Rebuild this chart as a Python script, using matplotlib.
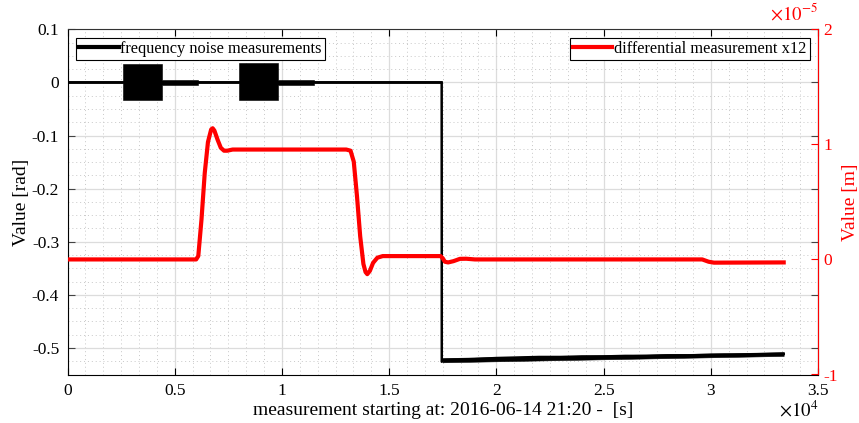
import matplotlib
matplotlib.use("Agg")
import matplotlib.pyplot as plt
from matplotlib.ticker import AutoMinorLocator

plt.rcParams['font.family'] = ['Liberation Serif', 'DejaVu Serif']
plt.rcParams['mathtext.fontset'] = 'stix'
plt.rcParams['axes.unicode_minus'] = False

# ---- data ----
# black: frequency noise measurements (rad)
black_t = [0, 17450, 17455, 17500, 18000, 19000, 20000, 21000, 22000, 23000,
           24000, 25000, 26000, 27000, 28000, 29000, 30000, 31000, 32000, 33400]
black_v = [0, 0, -0.526, -0.523, -0.522, -0.521, -0.519, -0.518, -0.517, -0.517,
           -0.516, -0.516, -0.515, -0.515, -0.514, -0.514, -0.513, -0.513, -0.512, -0.511]
# noise envelope of the black trace before the step
noise_t = [0, 2600, 2600, 4420, 4420, 6100, 6100, 8010, 8010, 9830, 9830, 11500, 11500, 17450]
noise_hi = [0.002, 0.002, 0.035, 0.035, 0.005, 0.005, 0.002, 0.002, 0.037, 0.037,
            0.005, 0.005, 0.002, 0.002]
noise_lo = [-0.002, -0.002, -0.033, -0.033, -0.005, -0.005, -0.002, -0.002, -0.033, -0.033,
            -0.005, -0.005, -0.002, -0.002]
# noise band of the black trace after the step
post_t = [17500, 33400]
post_lo = [-0.527, -0.515]
post_hi = [-0.519, -0.508]

# red: differential measurement x12 (units of 1e-5 m)
red_t = [0, 6000, 6100, 6250, 6400, 6550, 6700, 6770, 6850, 7000, 7150, 7300, 7450,
         7700, 8000, 13000, 13200, 13350, 13500, 13650, 13800, 13900, 13980,
         14100, 14250, 14450, 14700, 17400, 17500, 17600, 17750, 18000, 18300, 18600,
         19000, 29600, 29900, 30150, 33400]
red_v = [0.0, 0.0, 0.03, 0.35, 0.75, 1.02, 1.13, 1.14, 1.12, 1.04, 0.97, 0.945, 0.945,
         0.955, 0.955, 0.955, 0.945, 0.85, 0.55, 0.2, -0.04, -0.11, -0.128,
         -0.10, -0.03, 0.015, 0.029, 0.029, 0.01, -0.02, -0.026, -0.015, 0.005, 0.006,
         0.0, 0.0, -0.02, -0.028, -0.026]

x_ticks = [0, 5000, 10000, 15000, 20000, 25000, 30000, 35000]
x_labels = ['0', '0.5', '1', '1.5', '2', '2.5', '3', '3.5']
yl_ticks = [0.1, 0, -0.1, -0.2, -0.3, -0.4, -0.5]
yl_labels = ['0.1', '0', '-0.1', '-0.2', '-0.3', '-0.4', '-0.5']
yr_ticks = [-1, 0, 1, 2]
yr_labels = ['-1', '0', '1', '2']

FS = 12.5
LFS = 14.0
RED = '#ff0000'

fig = plt.figure(figsize=(8.59, 4.23), dpi=100)
ax = fig.add_axes([67.5 / 859, (423 - 374.5) / 423, (818 - 67.5) / 859, (374.5 - 29.3) / 423])
ax2 = ax.twinx()

ax.fill_between(noise_t, noise_lo, noise_hi, color='black', lw=0.4, zorder=2)
ax.fill_between(post_t, post_lo, post_hi, color='black', lw=0.4, zorder=2)
lb, = ax.plot(black_t, black_v, color='black', lw=1.8, zorder=3,
              label='frequency noise measurements')
lr, = ax2.plot(red_t, red_v, color=RED, lw=3.0, solid_joinstyle='round',
               label='differential measurement x12')

ax.set_xlim(0, 35000)
ax.set_ylim(-0.55, 0.1)
ax2.set_ylim(-1, 2)

ax.set_xticks(x_ticks)
ax.set_xticklabels(x_labels, fontsize=FS)
ax.set_yticks(yl_ticks)
ax.set_yticklabels(yl_labels, fontsize=FS)
ax.xaxis.set_minor_locator(AutoMinorLocator(6))
ax.yaxis.set_minor_locator(AutoMinorLocator(4))

ax.grid(which='major', color='#dcdcdc', lw=0.9, ls='-')
ax.grid(which='minor', color='#c8c8c8', lw=0.7, ls=(0, (1, 3)))
ax.set_axisbelow(True)

ax.tick_params(which='major', direction='in', length=5, width=0.8, top=True, right=True,
               pad=6)
ax.tick_params(which='minor', length=0)
ax.tick_params(axis='y', which='major', right=True, color='#444444')

ax2.set_yticks(yr_ticks)
ax2.set_yticklabels(yr_labels, fontsize=FS, color=RED)
ax2.tick_params(axis='y', direction='in', length=5, width=0.8, colors=RED, pad=4)

for s in ['left', 'bottom']:
    ax.spines[s].set_color('black')
ax.spines['top'].set_color('#333333')
ax2.spines['right'].set_color(RED)
ax2.spines['left'].set_visible(False)
ax2.spines['top'].set_visible(False)
ax2.spines['bottom'].set_visible(False)

ax.set_ylabel('Value [rad]', fontsize=LFS, labelpad=1)
ax2.set_ylabel('Value [m]', fontsize=LFS, color=RED)
ax2.yaxis.set_label_coords((842 - 67.5) / 750.5, 0.5)
ax.set_xlabel('measurement starting at: 2016-06-14 21:20 -  [s]', fontsize=LFS, labelpad=2)

fig.text(818 / 859, 1 - 410 / 423, r'$\times10^{4}$', fontsize=FS + 1, ha='right', va='center')
fig.text(818 / 859, 1 - 13 / 423, r'$\times10^{-5}$', fontsize=FS + 1, ha='right', va='center',
         color=RED)

leg1 = ax.legend(handles=[lb], loc='upper left', bbox_to_anchor=(0.0113, 0.976),
                 fontsize=FS - 0.7, frameon=True, fancybox=False, framealpha=1,
                 edgecolor='black', borderpad=0.2, handlelength=2.4, handletextpad=0.1,
                 borderaxespad=0)
leg1.get_frame().set_linewidth(0.8)
leg1.get_lines()[0].set_linewidth(3.0)
leg2 = ax2.legend(handles=[lr], loc='upper right', bbox_to_anchor=(0.989, 0.976),
                  fontsize=FS - 0.7, frameon=True, fancybox=False, framealpha=1,
                  edgecolor='black', borderpad=0.2, handlelength=2.4, handletextpad=0.1,
                  borderaxespad=0)
leg2.get_frame().set_linewidth(0.8)

fig.savefig('out.png', dpi=100)
